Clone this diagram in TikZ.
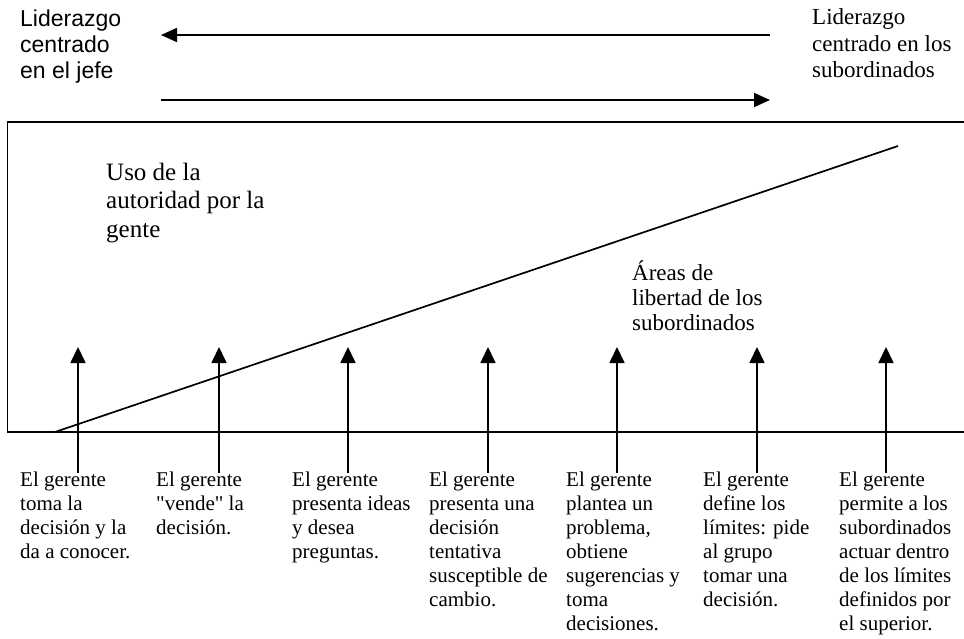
\documentclass[tikz,border=0pt]{standalone}
\usepackage{fontspec}
\setmainfont{Liberation Serif}[Ligatures=TeXOff]
\newfontfamily\arialf{Liberation Sans}
\usetikzlibrary{arrows.meta}
\tikzset{
  ln/.style={line width=1.7pt, black},
  bigarrow/.style={ln, -{Triangle[length=16pt,width=14pt]}},
  uparrow/.style={ln, -{Triangle[length=16pt,width=15pt]}},
  toplbl/.style={anchor=base west, inner sep=0pt, align=left, font=\arialf\fontsize{23}{26}\selectfont},
  toprlbl/.style={anchor=base west, inner sep=0pt, align=left, font=\fontsize{23}{26.5}\selectfont},
  usolbl/.style={anchor=base west, inner sep=0pt, align=left, font=\fontsize{25}{28.5}\selectfont},
  arealbl/.style={anchor=base west, inner sep=0pt, align=left, font=\fontsize{23}{25}\selectfont},
  botlbl/.style={anchor=base west, inner sep=0pt, align=left, font=\fontsize{21}{24}\selectfont}
}
\begin{document}
\begin{tikzpicture}[x=1pt,y=1pt]
\useasboundingbox (0,0) rectangle (964,-639);
% top labels (anchored at the baseline of the last line)
\node[toplbl] (jefe) at (20,-79) {Liderazgo\\centrado\\en el jefe};
\node[toprlbl] (subs) at (812,-78) {Liderazgo\\centrado en los\\subordinados};
% top arrows
\coordinate (la) at (770,-35);
\coordinate (lb) at (161,-35);
\coordinate (ra) at (161,-100);
\coordinate (rb) at (770,-100);
\draw[bigarrow] (la) -- (lb);
\draw[bigarrow] (ra) -- (rb);
% box (open to the right)
\coordinate (boxtr) at (964,-122);
\coordinate (boxtl) at (7.5,-122);
\coordinate (boxbl) at (7.5,-432);
\coordinate (boxbr) at (964,-432);
\draw[ln] (boxtr) -- (boxtl) -- (boxbl) -- (boxbr);
% diagonal
\coordinate (d0) at (55,-432);
\coordinate (d1) at (898,-146);
\draw[ln] (d0) -- (d1);
% inner labels
\node[usolbl] (uso) at (106,-237) {Uso de la\\autoridad por la\\gente};
\node[arealbl] (areas) at (632,-330) {Áreas de\\libertad de los\\subordinados};
% vertical arrows
\foreach \i/\x in {1/78,2/219,3/348,4/488,5/617,6/757,7/886}{
  \coordinate (b\i) at (\x,-473);
  \coordinate (t\i) at (\x,-347);
  \draw[uparrow] (b\i) -- (t\i);
}
% bottom labels
\node[botlbl] (g1) at (20,-558) {El gerente\\toma la\\decisión y la\\da a conocer.};
\node[botlbl] (g2) at (156,-534) {El gerente\\"vende" la\\decisión.};
\node[botlbl] (g3) at (292,-558) {El gerente\\presenta ideas\\y desea\\preguntas.};
\node[botlbl] (g4) at (429,-606) {El gerente\\presenta una\\decisión\\tentativa\\susceptible de\\cambio.};
\node[botlbl] (g5) at (566,-630) {El gerente\\plantea un\\problema,\\obtiene\\sugerencias y\\toma\\decisiones.};
\node[botlbl] (g6) at (703,-606) {El gerente\\define los\\límites: pide\\al grupo\\tomar una\\decisión.};
\node[botlbl] (g7) at (839,-630) {El gerente\\permite a los\\subordinados\\actuar dentro\\de los límites\\definidos por\\el superior.};
\end{tikzpicture}
\end{document}
